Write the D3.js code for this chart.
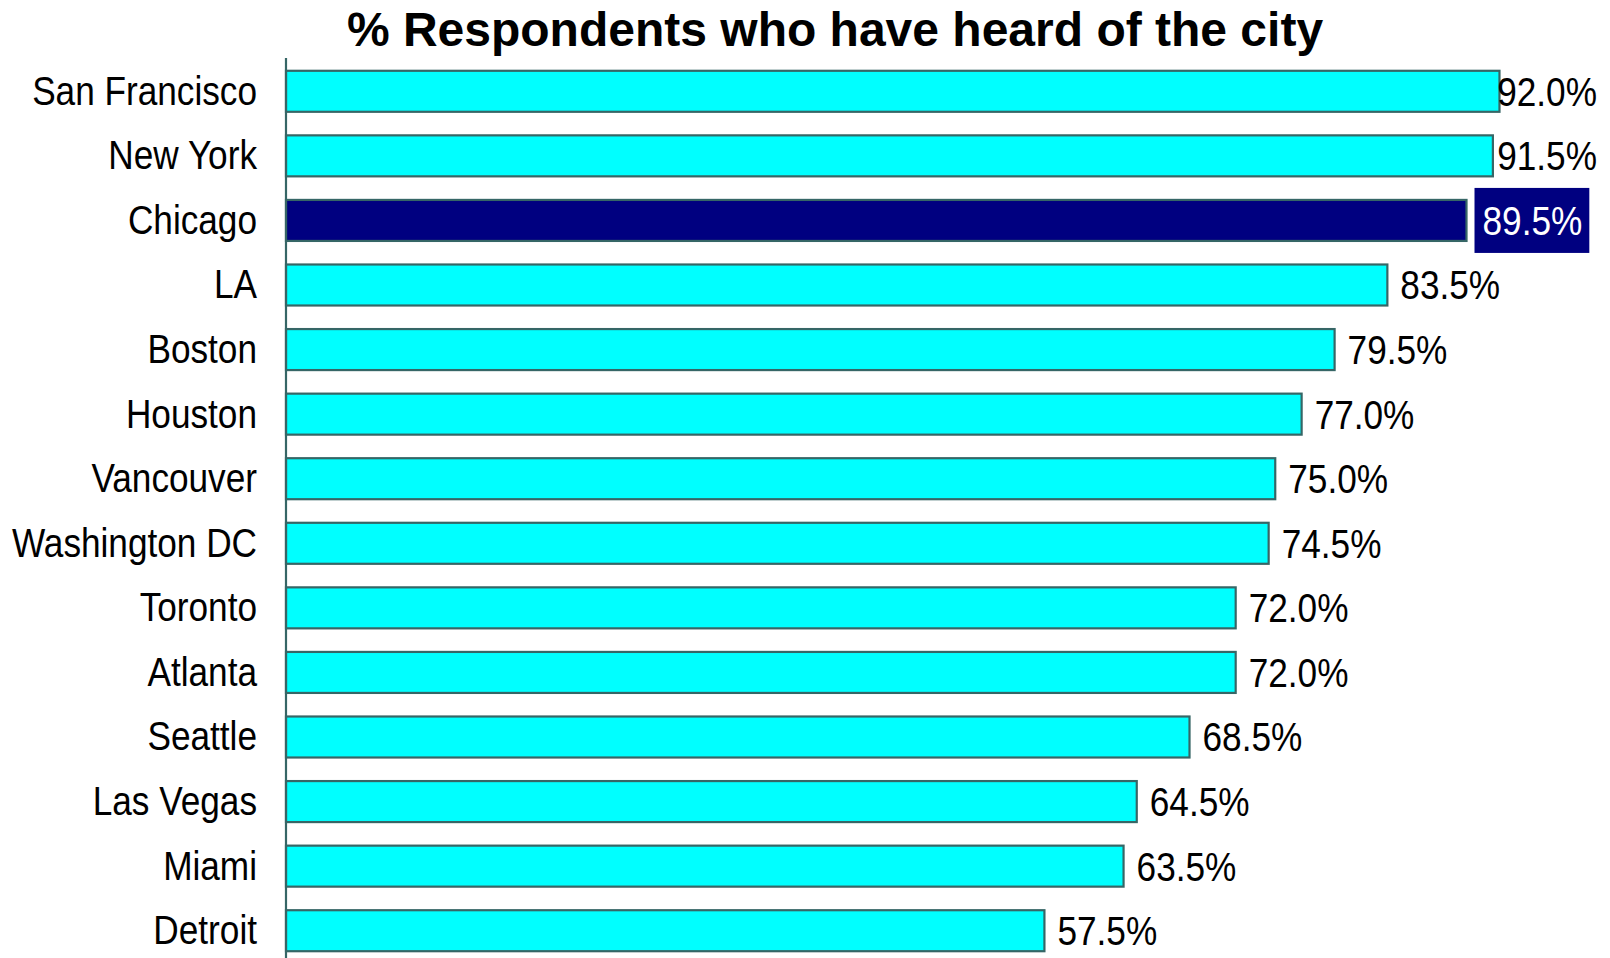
<!DOCTYPE html>
<html>
<head>
<meta charset="utf-8">
<script src="https://cdn.jsdelivr.net/npm/d3@7"></script>
<style>
  html, body { margin: 0; padding: 0; background: #ffffff; }
  svg { display: block; }
  text { font-family: "Liberation Sans", Arial, sans-serif; }
</style>
</head>
<body>
<svg id="chart" width="1610" height="958"></svg>
<script>
// Share of respondents who have heard of each city (%)
const cities = [
  "San Francisco", "New York", "Chicago", "LA", "Boston", "Houston", "Vancouver",
  "Washington DC", "Toronto", "Atlanta", "Seattle", "Las Vegas", "Miami", "Detroit"
];
const awareness = [92.0, 91.5, 89.5, 83.5, 79.5, 77.0, 75.0, 74.5, 72.0, 72.0, 68.5, 64.5, 63.5, 57.5];
const highlighted = ["Chicago"];
const titleText = "% Respondents who have heard of the city";

const rows = cities.map((c, i) => ({ city: c, value: awareness[i], hi: highlighted.includes(c) }));

const W = 1610, H = 958;
const svg = d3.select("#chart");

const x = d3.scaleLinear().domain([0, 100]).range([286, 1605]);
const y = d3.scaleBand().domain(cities).range([59, 963]).paddingInner(0.365).paddingOuter(0.1825);

const fmt = d => d.toFixed(1) + "%";
const labelSize = 40, squeeze = 0.88;
const labelRight = 1597;
const edge = "#366666";

// Title
svg.append("text")
  .attr("x", 835).attr("y", 46)
  .attr("text-anchor", "middle")
  .attr("font-size", 48).attr("font-weight", "bold")
  .attr("fill", "#000")
  .text(titleText);

// Bars
svg.append("g").selectAll("rect").data(rows).join("rect")
  .attr("x", x(0))
  .attr("y", d => y(d.city))
  .attr("width", d => x(d.value) - x(0))
  .attr("height", y.bandwidth())
  .attr("fill", d => d.hi ? "#000080" : "#00ffff")
  .attr("stroke", edge)
  .attr("stroke-width", 2.2);

// Category axis: line plus right-aligned city names
const axis = d3.axisLeft(y).tickSize(0).tickPadding(0);
const ax = svg.append("g").attr("transform", `translate(${x(0)},0)`).call(axis);
ax.select(".domain").remove();
ax.selectAll(".tick text").remove();
svg.append("line")
  .attr("x1", x(0)).attr("x2", x(0))
  .attr("y1", 58).attr("y2", H)
  .attr("stroke", edge).attr("stroke-width", 2.2);

ax.selectAll(".tick").append("text")
  .attr("transform", `translate(-29,-1) scale(${squeeze},1)`)
  .attr("text-anchor", "end")
  .attr("dy", "0.36em")
  .attr("font-size", labelSize)
  .attr("fill", "#000")
  .text(d => d);

// Value labels
const vg = svg.append("g");
rows.forEach(d => {
  const cy = y(d.city) + y.bandwidth() / 2;
  const g = vg.append("g");
  const t = g.append("text")
    .attr("font-size", labelSize)
    .attr("dy", "0.36em")
    .attr("fill", d.hi ? "#fff" : "#000")
    .text(fmt(d.value));
  const tw = t.node().getComputedTextLength() * squeeze;
  let left = x(d.value) + (d.hi ? 16 : 13);
  if (left + tw > labelRight) left = labelRight - tw;
  t.attr("transform", `translate(${left},${cy}) scale(${squeeze},1)`);
  if (d.hi) {
    g.insert("rect", "text")
      .attr("x", left - 8).attr("y", y(d.city) - 12)
      .attr("width", tw + 15).attr("height", y.bandwidth() + 24)
      .attr("fill", "#000080");
  }
});
</script>
</body>
</html>
